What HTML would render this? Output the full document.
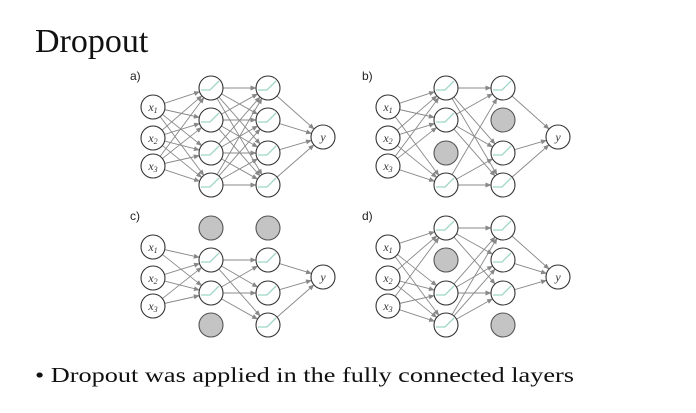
<!DOCTYPE html>
<html><head><meta charset="utf-8"><style>
html,body{margin:0;padding:0;background:#fff;width:696px;height:413px;overflow:hidden}
</style></head><body>
<svg id="s" width="696" height="413" xmlns="http://www.w3.org/2000/svg">
<defs><marker id="ar" markerWidth="6" markerHeight="6" refX="5.5" refY="3" orient="auto" markerUnits="userSpaceOnUse"><path d="M0,0.5 L6,3 L0,5.5 z" fill="#888"/></marker></defs>
<g id="edges"></g><g id="nodes"></g>
<text x="35" y="52" font-family="Liberation Serif, serif" font-size="34" fill="#111">Dropout</text>
<text x="35" y="382" font-family="Liberation Serif, serif" font-size="21" fill="#111" textLength="539" lengthAdjust="spacingAndGlyphs">• Dropout was applied in the fully connected layers</text>
<g font-family="Liberation Sans, sans-serif" font-size="12" fill="#222">
<text x="130" y="80">a)</text><text x="362" y="80">b)</text>
<text x="130" y="220">c)</text><text x="362" y="220">d)</text>
</g>
<g font-family="Liberation Serif, serif" font-style="italic" font-size="12" fill="#333" text-anchor="middle">
<text x="153" y="111">x<tspan font-size="8" dy="2">1</tspan></text>
<text x="153" y="142">x<tspan font-size="8" dy="2">2</tspan></text>
<text x="153" y="170">x<tspan font-size="8" dy="2">3</tspan></text>
<text x="323" y="141">y</text>
<text x="388" y="111">x<tspan font-size="8" dy="2">1</tspan></text>
<text x="388" y="142">x<tspan font-size="8" dy="2">2</tspan></text>
<text x="388" y="170">x<tspan font-size="8" dy="2">3</tspan></text>
<text x="558" y="141">y</text>
<text x="153" y="251">x<tspan font-size="8" dy="2">1</tspan></text>
<text x="153" y="282">x<tspan font-size="8" dy="2">2</tspan></text>
<text x="153" y="310">x<tspan font-size="8" dy="2">3</tspan></text>
<text x="323" y="281">y</text>
<text x="388" y="251">x<tspan font-size="8" dy="2">1</tspan></text>
<text x="388" y="282">x<tspan font-size="8" dy="2">2</tspan></text>
<text x="388" y="310">x<tspan font-size="8" dy="2">3</tspan></text>
<text x="558" y="281">y</text>
</g>
</svg>
<script>
var NS="http://www.w3.org/2000/svg",E=document.getElementById("edges"),N=document.getElementById("nodes");
function el(p,t,a){var e=document.createElementNS(NS,t);for(var k in a)e.setAttribute(k,a[k]);p.appendChild(e);return e}
var panels=[[0,0,[],[]],[235,0,[2],[1]],[0,140,[0,3],[0]],[235,140,[1],[3]]];
var r=12;
panels.forEach(function(p){
 var dx=p[0],dy=p[1];
 var X=[[153,107],[153,138],[153,166]].map(function(a){return[a[0]+dx,a[1]+dy]});
 var hy=[88,120,153,185];
 var H1=hy.map(function(y){return[211+dx,y+dy]}),H2=hy.map(function(y){return[268+dx,y+dy]});
 var O=[323+dx,137+dy];
 function edge(a,b){var vx=b[0]-a[0],vy=b[1]-a[1],l=Math.hypot(vx,vy);
  el(E,"line",{x1:a[0]+vx/l*r,y1:a[1]+vy/l*r,x2:b[0]-vx/l*r,y2:b[1]-vy/l*r,stroke:"#888","stroke-width":"0.9","marker-end":"url(#ar)"})}
 var a1=H1.filter(function(_,i){return p[2].indexOf(i)<0}),a2=H2.filter(function(_,i){return p[3].indexOf(i)<0});
 X.forEach(function(a){a1.forEach(function(b){edge(a,b)})});
 a1.forEach(function(a){a2.forEach(function(b){edge(a,b)})});
 a2.forEach(function(a){edge(a,O)});
 X.concat([O]).forEach(function(c){el(N,"circle",{cx:c[0],cy:c[1],r:r,fill:"#fff",stroke:"#333","stroke-width":"1.1"})});
 [[H1,p[2]],[H2,p[3]]].forEach(function(L){L[0].forEach(function(c,i){
  if(L[1].indexOf(i)>=0){el(N,"circle",{cx:c[0],cy:c[1],r:r,fill:"#c4c4c4",stroke:"#555","stroke-width":"1.1"})}
  else{el(N,"circle",{cx:c[0],cy:c[1],r:r,fill:"#fff",stroke:"#333","stroke-width":"1.1"});
   el(N,"polyline",{points:(c[0]-10)+","+(c[1]+2)+" "+(c[0]-1)+","+(c[1]+2)+" "+(c[0]+8)+","+(c[1]-7),fill:"none",stroke:"#9fd6c8","stroke-width":"1.3"})}
 })});
});
</script>
</body></html>
